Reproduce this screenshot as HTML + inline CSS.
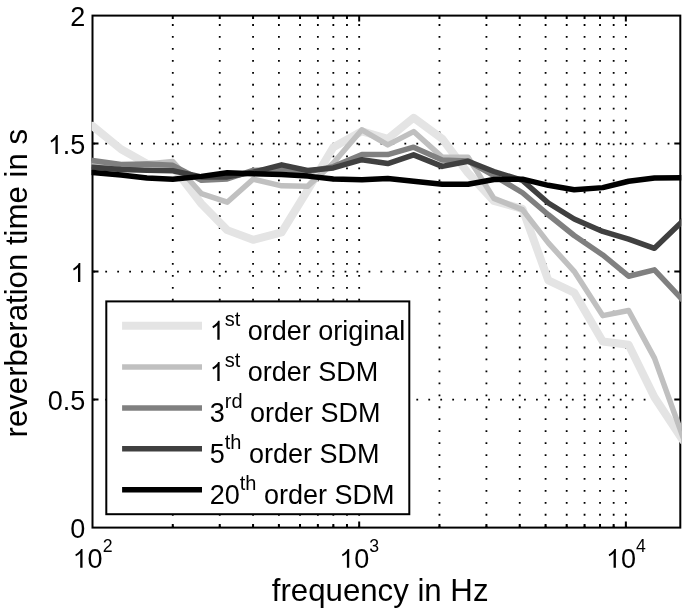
<!DOCTYPE html><html><head><meta charset="utf-8"><style>html,body{margin:0;padding:0;background:#fff;}svg{display:block;will-change:transform;}text{font-family:"Liberation Sans",sans-serif;fill:#000;}</style></head><body>
<svg width="685" height="612" viewBox="0 0 685 612">
<defs><path id="one" d="M282 0H368V700H312C285 630 210 560 100 495L124 425C190 458 245 500 282 545Z"/></defs>
<rect x="0" y="0" width="685" height="612" fill="#fff"/>
<g stroke="#000" stroke-width="1.8" stroke-dasharray="1.8 10.145" fill="none"><line x1="172.78" y1="527.60" x2="172.78" y2="15.60"/><line x1="219.74" y1="527.60" x2="219.74" y2="15.60"/><line x1="253.06" y1="527.60" x2="253.06" y2="15.60"/><line x1="278.90" y1="527.60" x2="278.90" y2="15.60"/><line x1="300.02" y1="527.60" x2="300.02" y2="15.60"/><line x1="317.87" y1="527.60" x2="317.87" y2="15.60"/><line x1="333.34" y1="527.60" x2="333.34" y2="15.60"/><line x1="346.98" y1="527.60" x2="346.98" y2="15.60"/><line x1="359.18" y1="527.60" x2="359.18" y2="15.60"/><line x1="439.46" y1="527.60" x2="439.46" y2="15.60"/><line x1="486.42" y1="527.60" x2="486.42" y2="15.60"/><line x1="519.74" y1="527.60" x2="519.74" y2="15.60"/><line x1="545.59" y1="527.60" x2="545.59" y2="15.60"/><line x1="566.70" y1="527.60" x2="566.70" y2="15.60"/><line x1="584.56" y1="527.60" x2="584.56" y2="15.60"/><line x1="600.02" y1="527.60" x2="600.02" y2="15.60"/><line x1="613.66" y1="527.60" x2="613.66" y2="15.60"/><line x1="625.86" y1="527.60" x2="625.86" y2="15.60"/></g>
<g stroke="#000" stroke-width="1.8" stroke-dasharray="1.8 10.165" fill="none"><line x1="93.30" y1="399.60" x2="680.30" y2="399.60"/><line x1="93.30" y1="271.60" x2="680.30" y2="271.60"/><line x1="93.30" y1="143.60" x2="680.30" y2="143.60"/></g>
<path d="M172.78,527.60v-3.5M172.78,15.60v3.5M219.74,527.60v-3.5M219.74,15.60v3.5M253.06,527.60v-3.5M253.06,15.60v3.5M278.90,527.60v-3.5M278.90,15.60v3.5M300.02,527.60v-3.5M300.02,15.60v3.5M317.87,527.60v-3.5M317.87,15.60v3.5M333.34,527.60v-3.5M333.34,15.60v3.5M346.98,527.60v-3.5M346.98,15.60v3.5M359.18,527.60v-6.0M359.18,15.60v6.0M439.46,527.60v-3.5M439.46,15.60v3.5M486.42,527.60v-3.5M486.42,15.60v3.5M519.74,527.60v-3.5M519.74,15.60v3.5M545.59,527.60v-3.5M545.59,15.60v3.5M566.70,527.60v-3.5M566.70,15.60v3.5M584.56,527.60v-3.5M584.56,15.60v3.5M600.02,527.60v-3.5M600.02,15.60v3.5M613.66,527.60v-3.5M613.66,15.60v3.5M625.86,527.60v-6.0M625.86,15.60v6.0M92.50,399.60h6.0M680.30,399.60h-6.0M92.50,271.60h6.0M680.30,271.60h-6.0M92.50,143.60h6.0M680.30,143.60h-6.0" stroke="#000" stroke-width="2" fill="none"/>
<rect x="92.50" y="15.60" width="587.80" height="512.00" fill="none" stroke="#000" stroke-width="2"/>
<clipPath id="c"><rect x="91.50" y="14.60" width="589.80" height="514.00"/></clipPath>
<g fill="none" stroke-linejoin="round" stroke-linecap="round" clip-path="url(#c)">
<polyline points="92.50,125.94 121.09,149.23 146.94,163.82 172.78,166.64 201.37,203.76 227.21,230.13 253.06,239.86 281.65,232.43 307.49,190.45 333.34,147.18 361.93,131.31 387.77,138.74 413.62,117.74 442.21,138.74 468.05,173.04 493.90,200.94 522.49,208.88 548.33,280.30 574.18,292.59 602.77,341.49 628.61,344.82 654.46,397.30 683.05,440.56" stroke="#e4e4e4" stroke-width="8"/>
<polyline points="92.50,164.08 121.09,166.64 146.94,164.08 172.78,161.52 201.37,193.52 227.21,202.22 253.06,179.18 281.65,185.84 307.49,186.35 333.34,163.06 361.93,129.78 387.77,144.88 413.62,131.57 442.21,157.17 468.05,157.17 493.90,198.38 522.49,209.65 548.33,242.93 574.18,271.34 602.77,315.63 628.61,310.51 654.46,358.13 683.05,437.23" stroke="#c0c0c0" stroke-width="5.5"/>
<polyline points="92.50,160.50 121.09,164.59 146.94,164.08 172.78,165.36 201.37,180.21 227.21,178.93 253.06,170.48 281.65,169.20 307.49,171.76 333.34,166.64 361.93,154.61 387.77,154.61 413.62,147.18 442.21,159.98 468.05,161.01 493.90,175.60 522.49,192.75 548.33,214.77 574.18,235.50 602.77,254.96 628.61,276.21 654.46,269.81 683.05,300.27" stroke="#808080" stroke-width="5.5"/>
<polyline points="92.50,167.15 121.09,169.46 146.94,170.22 172.78,170.74 201.37,176.88 227.21,176.88 253.06,172.27 281.65,164.85 307.49,170.48 333.34,167.92 361.93,159.73 387.77,163.57 413.62,154.86 442.21,166.38 468.05,161.26 493.90,171.50 522.49,180.46 548.33,202.99 574.18,218.99 602.77,231.41 628.61,239.09 654.46,248.30 683.05,220.66" stroke="#404040" stroke-width="5.5"/>
<polyline points="92.50,172.53 121.09,175.09 146.94,177.90 172.78,179.18 201.37,176.37 227.21,172.78 253.06,173.81 281.65,174.58 307.49,176.11 333.34,178.93 361.93,179.70 387.77,178.42 413.62,181.23 442.21,184.30 468.05,184.30 493.90,179.44 522.49,179.18 548.33,185.33 574.18,189.68 602.77,187.63 628.61,181.23 654.46,177.90 683.05,177.65" stroke="#000000" stroke-width="5.5"/>
</g>
<text x="85.4" y="538.00" font-size="27" text-anchor="end">0</text>
<text x="85.4" y="410.00" font-size="27" text-anchor="end">0.5</text>
<use href="#one" transform="translate(70.38,282.00) scale(0.0270,-0.0270)"/>
<use href="#one" transform="translate(47.85,154.00) scale(0.0270,-0.0270)"/>
<text x="62.87" y="154.00" font-size="27">.5</text>
<text x="85.4" y="26.00" font-size="27" text-anchor="end">2</text>
<use href="#one" transform="translate(72.60,567.80) scale(0.0270,-0.0270)"/>
<text x="87.62" y="567.8" font-size="27">0<tspan font-size="17.7" dy="-16">2</tspan></text>
<use href="#one" transform="translate(339.28,567.80) scale(0.0270,-0.0270)"/>
<text x="354.30" y="567.8" font-size="27">0<tspan font-size="17.7" dy="-16">3</tspan></text>
<use href="#one" transform="translate(605.96,567.80) scale(0.0270,-0.0270)"/>
<text x="620.98" y="567.8" font-size="27">0<tspan font-size="17.7" dy="-16">4</tspan></text>
<text x="271.8" y="600.8" font-size="31.2">frequency in Hz</text>
<text transform="translate(27.2,437.5) rotate(-90)" font-size="31.2">reverberation time in s</text>
<rect x="106.3" y="301.4" width="303.00" height="212.80" fill="#fff" stroke="#000" stroke-width="2"/>
<line x1="122.1" y1="325.8" x2="202.0" y2="325.8" stroke="#e4e4e4" stroke-width="8"/>
<use href="#one" transform="translate(209.70,339.70) scale(0.0270,-0.0270)"/>
<text x="224.72" y="339.70" font-size="27"><tspan font-size="20" dy="-14">st</tspan><tspan dy="14"> order original</tspan></text>
<line x1="122.1" y1="367.0" x2="202.0" y2="367.0" stroke="#c0c0c0" stroke-width="5.5"/>
<use href="#one" transform="translate(209.70,380.90) scale(0.0270,-0.0270)"/>
<text x="224.72" y="380.90" font-size="27"><tspan font-size="20" dy="-14">st</tspan><tspan dy="14"> order SDM</tspan></text>
<line x1="122.1" y1="408.0" x2="202.0" y2="408.0" stroke="#808080" stroke-width="5.5"/>
<text x="209.7" y="421.90" font-size="27">3<tspan font-size="20" dy="-14">rd</tspan><tspan dy="14"> order SDM</tspan></text>
<line x1="122.1" y1="448.7" x2="202.0" y2="448.7" stroke="#404040" stroke-width="5.5"/>
<text x="209.7" y="462.60" font-size="27">5<tspan font-size="20" dy="-14">th</tspan><tspan dy="14"> order SDM</tspan></text>
<line x1="122.1" y1="489.7" x2="202.0" y2="489.7" stroke="#000000" stroke-width="5.5"/>
<text x="209.7" y="503.60" font-size="27">20<tspan font-size="20" dy="-14">th</tspan><tspan dy="14"> order SDM</tspan></text>
</svg></body></html>
